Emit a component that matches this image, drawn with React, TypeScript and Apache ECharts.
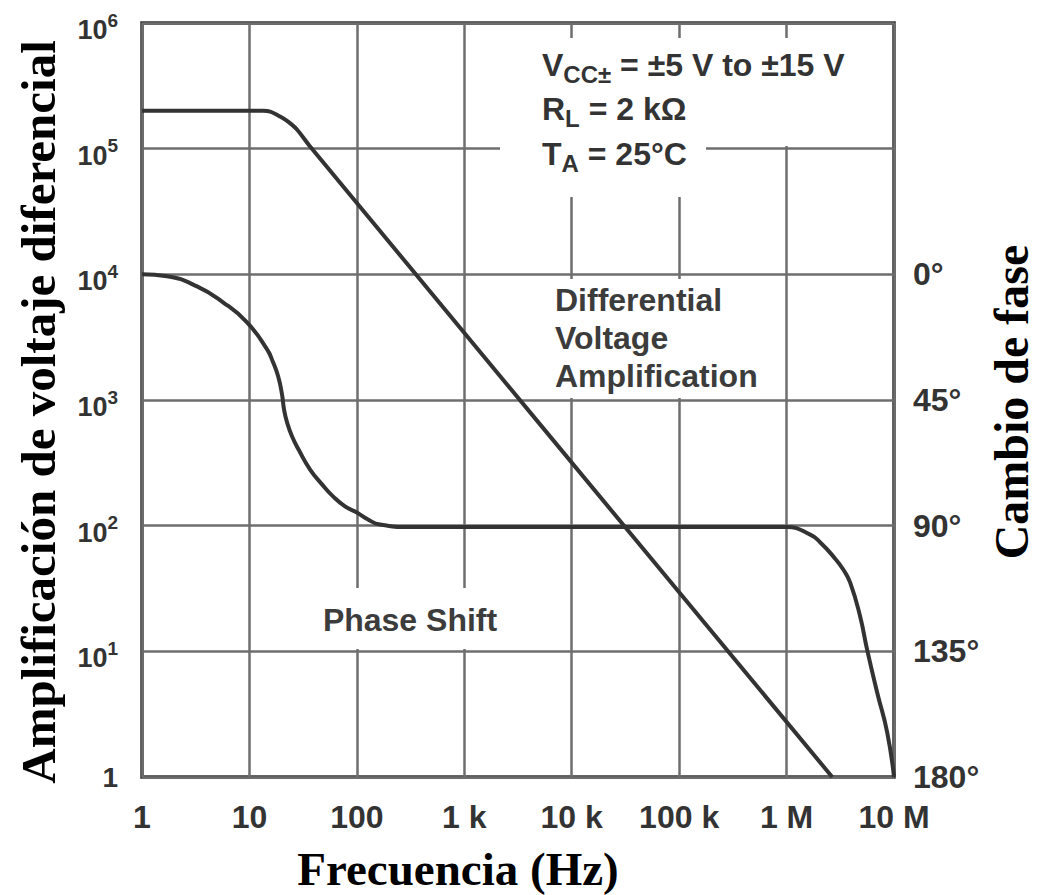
import React, { useEffect, useRef } from "react";
import * as echarts from "echarts";

// ---------- data ----------
const xTickLabels = ["1", "10", "100", "1 k", "10 k", "100 k", "1 M", "10 M"];
const yTickExponents = [0, 1, 2, 3, 4, 5, 6];
const phaseTicks = [0, 45, 90, 135, 180];

// Differential voltage amplification (gain vs frequency, Hz)
const gainFreq = [1, 13.4, 15.6, 19.3, 22.9, 27.7, 36.7, 2.66e6];
const gainValues = [2e5, 2e5, 1.97e5, 1.8e5, 1.64e5, 1.42e5, 1.04e5, 1];

// Phase shift (degrees vs frequency, Hz)
const phaseFreq = [
  1, 1.71, 3.25, 5.68, 9.5, 14.6, 16.6, 18.5, 20.1, 21.0, 22.4, 24.9, 29.0, 36.7, 47.4, 60, 77.6, 100, 127, 164, 313,
  1.0e6, 1.66e6, 2.06e6, 2.72e6, 3.37e6, 3.91e6, 4.84e6, 5.62e6, 6.98e6, 8.65e6, 1e7,
];
const phaseValues = [
  0, 0.7, 4.3, 10.0, 17.2, 26.9, 31.5, 36.5, 43.0, 48.4, 53.0, 58.0, 63.1, 69.9, 75.2, 79.5, 83.1, 85.3, 87.8, 89.6, 90.5,
  90.5, 93.2, 96.0, 101.0, 105.7, 110.4, 122.5, 134.4, 149.8, 164.1, 180,
];

const SANS = '"Liberation Sans", Arial, Helvetica, sans-serif';
const SERIF = '"Liberation Serif", "Times New Roman", serif';
const TXT = "#333";
const GRIDC = "#6e6e6e";

export default function App() {
  const ref = useRef<HTMLDivElement>(null);

  useEffect(() => {
    if (!ref.current) return;
    const chart = echarts.init(ref.current, undefined, { renderer: "svg" });

    const mainRich = {
      m: { fontSize: 32, fontWeight: "bold", fontFamily: SANS, fill: TXT, lineHeight: 34, verticalAlign: "top" },
      s: {
        fontSize: 24,
        fontWeight: "bold",
        fontFamily: SANS,
        fill: TXT,
        lineHeight: 24,
        padding: [14, 0, 0, 0],
        verticalAlign: "top",
      },
    };

    const annot = (x: number, y: number, text: string) => ({
      type: "text",
      z: 3,
      x,
      y,
      style: {
        text,
        rich: mainRich,
        fill: TXT,
        font: `bold 32px ${SANS}`,
        align: "left",
        textAlign: "left",
        verticalAlign: "middle",
        textVerticalAlign: "middle",
      },
    });

    const option: any = {
      animation: false,
      backgroundColor: "#fff",
      grid: {
        left: 142,
        top: 23,
        width: 752,
        height: 754,
        show: true,
        borderColor: "#333",
        borderWidth: 3.5,
      },
      xAxis: {
        type: "log",
        logBase: 10,
        min: 1,
        max: 1e7,
        splitNumber: 7,
        axisLine: { show: false },
        axisTick: { show: false },
        minorTick: { show: false },
        splitLine: { show: true, lineStyle: { color: GRIDC, width: 2.5 } },
        axisLabel: {
          interval: 0,
          margin: 24,
          fontSize: 32,
          lineHeight: 32,
          fontWeight: "bold",
          fontFamily: SANS,
          color: TXT,
          formatter: (v: number) => xTickLabels[Math.round(Math.log10(v))] ?? "",
        },
      },
      yAxis: [
        {
          type: "log",
          logBase: 10,
          min: 1,
          max: 1e6,
          splitNumber: 6,
          position: "left",
          axisLine: { show: false },
          axisTick: { show: false },
          splitLine: { show: true, lineStyle: { color: GRIDC, width: 2.5 } },
          axisLabel: {
            margin: 24,
            fontSize: 28,
            fontWeight: "bold",
            fontFamily: SANS,
            color: TXT,
            formatter: (v: number) => {
              const e = Math.round(Math.log10(v));
              if (!yTickExponents.includes(e)) return "";
              return e === 0 ? "1" : `{b|10}{s|${e}}`;
            },
            rich: {
              b: {
                fontSize: 27,
                fontWeight: "bold",
                fontFamily: SANS,
                color: TXT,
                padding: [14, 0, 0, 0],
                verticalAlign: "top",
              },
              s: {
                fontSize: 19,
                fontWeight: "bold",
                fontFamily: SANS,
                color: TXT,
                padding: [8, 0, 0, 0],
                verticalAlign: "top",
              },
            },
          },
        },
        {
          type: "value",
          position: "right",
          inverse: true,
          min: -90,
          max: 180,
          interval: 45,
          axisLine: { show: false },
          axisTick: { show: false },
          splitLine: { show: false },
          axisLabel: {
            margin: 19,
            fontSize: 32,
            fontWeight: "bold",
            fontFamily: SANS,
            color: TXT,
            formatter: (v: number) => (phaseTicks.includes(v) ? `${v}°` : ""),
          },
        },
      ],
      series: [
        {
          name: "Differential Voltage Amplification",
          type: "line",
          yAxisIndex: 0,
          showSymbol: false,
          symbol: "none",
          smooth: 0.3,
          z: 5,
          lineStyle: { color: "#333", width: 4 },
          data: gainFreq.map((f, i) => [f, gainValues[i]]),
        },
        {
          name: "Phase Shift",
          type: "line",
          yAxisIndex: 1,
          showSymbol: false,
          symbol: "none",
          smooth: 0.5,
          z: 5,
          lineStyle: { color: "#333", width: 4 },
          data: phaseFreq.map((f, i) => [f, phaseValues[i]]),
        },
      ],
      graphic: [
        // white label backgrounds interrupting the grid
        { type: "rect", z: 1, shape: { x: 500, y: 38, width: 370, height: 108 }, style: { fill: "#fff" } },
        { type: "rect", z: 1, shape: { x: 500, y: 146, width: 206, height: 51 }, style: { fill: "#fff" } },
        { type: "rect", z: 1, shape: { x: 530, y: 279, width: 245, height: 119 }, style: { fill: "#fff" } },
        { type: "rect", z: 1, shape: { x: 270, y: 588, width: 275, height: 61 }, style: { fill: "#fff" } },
        // conditions
        annot(542, 65.5, "{m|V}{s|CC±}{m| = ±5 V to ±15 V}"),
        annot(542, 109.5, "{m|R}{s|L}{m| = 2 kΩ}"),
        annot(542, 154.5, "{m|T}{s|A}{m| = 25°C}"),
        // curve labels
        {
          type: "text",
          z: 3,
          x: 555,
          y: 338,
          style: {
            text: "Differential\nVoltage\nAmplification",
            font: `bold 32px ${SANS}`,
            lineHeight: 38,
            fill: "#3c3c3c",
            align: "left",
            textAlign: "left",
            verticalAlign: "middle",
            textVerticalAlign: "middle",
          },
        },
        {
          type: "text",
          z: 3,
          x: 410,
          y: 620,
          style: {
            text: "Phase Shift",
            font: `bold 32px ${SANS}`,
            fill: "#3c3c3c",
            align: "center",
            textAlign: "center",
            verticalAlign: "middle",
            textVerticalAlign: "middle",
          },
        },
        // axis titles
        {
          type: "text",
          z: 3,
          x: 38,
          y: 412,
          rotation: Math.PI / 2,
          style: {
            text: "Amplificación de voltaje diferencial",
            font: `bold 49px ${SERIF}`,
            fill: "#000",
            align: "center",
            textAlign: "center",
            verticalAlign: "middle",
            textVerticalAlign: "middle",
          },
        },
        {
          type: "text",
          z: 3,
          x: 1011,
          y: 402,
          rotation: Math.PI / 2,
          style: {
            text: "Cambio de fase",
            font: `bold 48px ${SERIF}`,
            fill: "#000",
            align: "center",
            textAlign: "center",
            verticalAlign: "middle",
            textVerticalAlign: "middle",
          },
        },
        {
          type: "text",
          z: 3,
          x: 458,
          y: 869,
          style: {
            text: "Frecuencia (Hz)",
            font: `bold 47px ${SERIF}`,
            fill: "#000",
            align: "center",
            textAlign: "center",
            verticalAlign: "middle",
            textVerticalAlign: "middle",
          },
        },
      ],
    };

    chart.setOption(option);
    return () => chart.dispose();
  }, []);

  return (
    <div
      ref={ref}
      style={{ position: "absolute", left: 0, top: 0, width: 1037, height: 895, background: "#fff" }}
    />
  );
}
